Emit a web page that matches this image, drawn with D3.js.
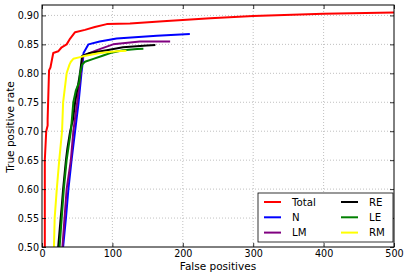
<!DOCTYPE html>
<html>
<head>
<meta charset="utf-8">
<script src="https://cdn.jsdelivr.net/npm/d3@7"></script>
<style>
  body { margin: 0; background: #fff; }
  svg { display: block; font-family: "DejaVu Sans", sans-serif; }
</style>
</head>
<body>
<svg width="407" height="274"></svg>
<script>
  // tick labels
  const xTicks = [0, 100, 200, 300, 400, 500];
  const yTicks = [0.50, 0.55, 0.60, 0.65, 0.70, 0.75, 0.80, 0.85, 0.90];

  // series: [false positives, true positive rate]
  const total = [[4, 0.50], [4, 0.65], [6, 0.70], [8, 0.71], [8, 0.72], [10, 0.805], [12, 0.81], [16, 0.835], [23, 0.838],
    [28, 0.845], [35, 0.85], [40, 0.86], [47, 0.871], [61, 0.875], [75, 0.88], [92, 0.885], [125, 0.886], [172, 0.89],
    [239, 0.895], [300, 0.899], [400, 0.903], [500, 0.905]];
  const nSeries = [[30, 0.50], [34, 0.55], [37.5, 0.60], [42, 0.65], [47, 0.70], [52, 0.75], [56, 0.80], [58, 0.82],
    [59, 0.835], [66, 0.85], [82, 0.855], [106, 0.86], [163, 0.865], [210, 0.868]];
  const lm = [[29, 0.50], [32, 0.55], [35, 0.60], [41, 0.65], [44.5, 0.70], [50, 0.75], [55, 0.80], [58, 0.83],
    [78, 0.84], [101, 0.85], [139, 0.855], [182, 0.855]];
  const re = [[23, 0.50], [26.5, 0.55], [28, 0.57], [30, 0.60], [34, 0.65], [36, 0.67], [40, 0.70], [44, 0.72],
    [47, 0.75], [54, 0.80], [57, 0.83], [68, 0.835], [92, 0.84], [115, 0.845], [149, 0.848], [161, 0.849]];
  const le = [[25, 0.50], [28, 0.55], [31, 0.60], [35, 0.65], [41, 0.70], [44.5, 0.75], [48, 0.77], [53, 0.785],
    [54, 0.80], [57, 0.815], [61, 0.82], [73, 0.825], [85, 0.83], [97, 0.835], [115, 0.84], [135, 0.842], [144, 0.8425]];
  const rm = [[17, 0.50], [18, 0.55], [21, 0.60], [24.5, 0.65], [28.5, 0.70], [30, 0.75], [33, 0.78], [35, 0.80],
    [39, 0.815], [41, 0.82], [44.5, 0.825], [54, 0.828], [60, 0.83], [82, 0.835], [106, 0.838], [120, 0.839]];

  const seriesNames = ['Total', 'N', 'LM', 'RE', 'LE', 'RM'];
  const seriesColors = ['#ff0000', '#0000ff', '#800080', '#000000', '#008000', '#ffff00'];
  const seriesData = [total, nSeries, lm, re, le, rm];

  const svg = d3.select('svg');
  const margin = { top: 5, right: 13, bottom: 27, left: 42 };
  const width = 407 - margin.left - margin.right;
  const height = 274 - margin.top - margin.bottom;

  const xScale = d3.scaleLinear().domain([0, 500]).range([0, width]);
  const yScale = d3.scaleLinear().domain([0.5, 0.918]).range([height, 0]);

  const g = svg.append('g')
    .attr('transform', 'translate(' + margin.left + ',' + margin.top + ')');

  g.append('defs').append('clipPath').attr('id', 'clip')
    .append('rect').attr('width', width).attr('height', height);

  // grid
  g.append('g').selectAll('line').data(xTicks.slice(1, -1)).enter().append('line')
    .attr('x1', d => xScale(d)).attr('x2', d => xScale(d))
    .attr('y1', 0).attr('y2', height)
    .attr('stroke', '#b0b0b0').attr('stroke-width', 0.8).attr('stroke-dasharray', '1,2');
  g.append('g').selectAll('line').data(yTicks.slice(1)).enter().append('line')
    .attr('y1', d => yScale(d)).attr('y2', d => yScale(d))
    .attr('x1', 0).attr('x2', width)
    .attr('stroke', '#b0b0b0').attr('stroke-width', 0.8).attr('stroke-dasharray', '1,2');

  // lines
  const line = d3.line().x(d => xScale(d[0])).y(d => yScale(d[1]));
  g.append('g').attr('clip-path', 'url(#clip)')
    .selectAll('path').data(seriesData).enter().append('path')
    .attr('d', line)
    .attr('fill', 'none')
    .attr('stroke', (d, i) => seriesColors[i])
    .attr('stroke-width', 2)
    .attr('stroke-linejoin', 'round');

  // axes (ticks inward, on all sides)
  const xAxis = d3.axisBottom(xScale).tickValues(xTicks).tickFormat(d3.format('d')).tickSizeInner(-4).tickSizeOuter(0).tickPadding(3.5);
  const yAxis = d3.axisLeft(yScale).tickValues(yTicks).tickFormat(d3.format('.2f')).tickSizeInner(-4).tickSizeOuter(0).tickPadding(3);
  g.append('g').attr('transform', 'translate(0,' + height + ')').call(xAxis);
  g.append('g').call(yAxis);
  g.append('g').call(d3.axisTop(xScale).tickValues(xTicks).tickSizeInner(-4).tickSizeOuter(0).tickFormat(''));
  g.append('g').attr('transform', 'translate(' + width + ',0)')
    .call(d3.axisRight(yScale).tickValues(yTicks).tickSizeInner(-4).tickSizeOuter(0).tickFormat(''));
  g.selectAll('.domain').remove();
  g.selectAll('.tick line').attr('stroke', '#000').attr('stroke-width', 0.8);
  g.selectAll('.tick text').attr('font-size', '9.6px').attr('font-family', '"DejaVu Sans", sans-serif').attr('fill', '#000');

  // frame
  g.append('rect').attr('width', width).attr('height', height)
    .attr('fill', 'none').attr('stroke', '#000').attr('stroke-width', 1);

  // axis labels
  svg.append('text').attr('x', margin.left + width / 2).attr('y', 269.5)
    .attr('text-anchor', 'middle').attr('font-size', '10.5px').text('False positives');
  svg.append('text').attr('transform', 'translate(13.5,' + (margin.top + height / 2 + 1) + ') rotate(-90)')
    .attr('text-anchor', 'middle').attr('font-size', '10.5px').text('True positive rate');

  // legend
  const legend = g.append('g').attr('transform', 'translate(' + (258 - margin.left) + ',' + (193 - margin.top) + ')');
  legend.append('rect').attr('width', 135).attr('height', 49)
    .attr('fill', '#fff').attr('stroke', '#000').attr('stroke-width', 0.8);
  const items = legend.selectAll('g.item').data(seriesNames).enter().append('g')
    .attr('transform', (d, i) => 'translate(' + (i < 3 ? 6 : 83) + ',' + (9 + (i % 3) * 15.3) + ')');
  items.append('line').attr('x1', 0).attr('x2', 17)
    .attr('stroke', (d, i) => seriesColors[i]).attr('stroke-width', 2);
  items.append('text').attr('x', 28).attr('y', 3.7).attr('font-size', '10.2px').text(d => d);
</script>
</body>
</html>
